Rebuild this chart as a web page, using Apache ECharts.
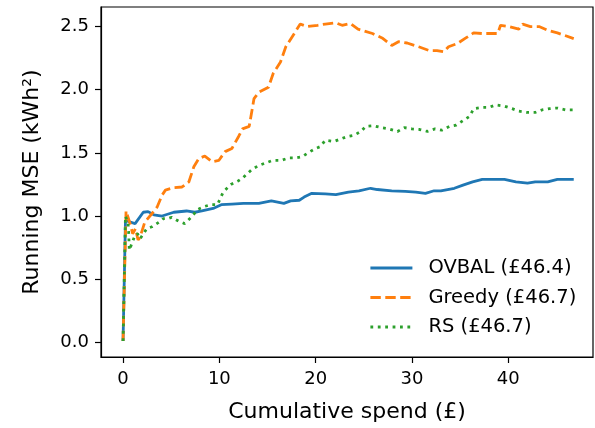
<!DOCTYPE html>
<html>
<head>
<meta charset="utf-8">
<script src="https://cdn.jsdelivr.net/npm/echarts@6/dist/echarts.min.js"></script>
<style>
html,body{margin:0;padding:0;background:#fff;}
#c{width:595px;height:428px;}
</style>
</head>
<body>
<div id="c"></div>
<script>
// ---- data ----
const xTicks = [0, 10, 20, 30, 40];
const yTicks = [0.0, 0.5, 1.0, 1.5, 2.0, 2.5];
const seriesNames = ['OVBAL (£46.4)', 'Greedy (£46.7)', 'RS (£46.7)'];

const ovbalSpend = [0, 0.25, 1.25, 2.1, 2.6, 3.2, 4.05, 5.27, 6.59, 7.45, 8.18, 9.35, 10.2, 11.3, 12.5, 13.1, 14.1, 15.4, 16.7, 17.4, 18.3, 18.8, 19.6, 21.0, 22.1, 23.4, 24.5, 25.7, 26.4, 27.9, 29.3, 30.4, 31.4, 32.3, 33.0, 34.4, 35.3, 36.3, 37.3, 38.3, 39.6, 40.8, 42.0, 42.8, 44.1, 45.1, 46.8];
const ovbalMse   = [0.01, 0.965, 0.94, 1.03, 1.035, 1.01, 1.00, 1.03, 1.04, 1.03, 1.04, 1.06, 1.09, 1.095, 1.10, 1.10, 1.10, 1.12, 1.10, 1.12, 1.125, 1.15, 1.18, 1.175, 1.17, 1.19, 1.20, 1.22, 1.21, 1.20, 1.195, 1.19, 1.18, 1.20, 1.20, 1.22, 1.245, 1.27, 1.29, 1.29, 1.29, 1.27, 1.26, 1.27, 1.27, 1.29, 1.29];

const greedySpend = [0, 0.31, 0.77, 1.0, 1.29, 1.56, 1.75, 2.25, 3.01, 3.53, 4.05, 4.4, 5.27, 6.13, 6.83, 7.35, 7.86, 8.49, 9.25, 9.94, 10.6, 11.3, 12.0, 12.4, 13.1, 13.6, 14.1, 15.1, 15.6, 16.35, 16.9, 17.9, 18.4, 19.1, 20.2, 21.0, 22.1, 22.75, 23.6, 24.4, 25.9, 26.9, 27.9, 28.6, 29.5, 30.7, 31.8, 32.6, 33.3, 33.8, 34.7, 35.6, 36.4, 37.3, 38.9, 39.2, 40.1, 41.1, 41.5, 42.3, 43.2, 44.1, 45.1, 46.8];
const greedyMse   = [0.01, 1.04, 0.93, 0.86, 0.90, 0.81, 0.83, 0.95, 1.02, 1.07, 1.165, 1.205, 1.225, 1.23, 1.27, 1.39, 1.455, 1.475, 1.43, 1.44, 1.51, 1.535, 1.63, 1.69, 1.71, 1.93, 1.98, 2.02, 2.13, 2.22, 2.34, 2.46, 2.52, 2.50, 2.51, 2.52, 2.53, 2.51, 2.525, 2.48, 2.445, 2.41, 2.35, 2.38, 2.37, 2.34, 2.31, 2.31, 2.30, 2.34, 2.365, 2.41, 2.45, 2.445, 2.445, 2.51, 2.50, 2.48, 2.52, 2.50, 2.50, 2.47, 2.45, 2.405];

const rsSpend = [0, 0.25, 0.52, 0.59, 0.62, 0.65, 1.25, 1.5, 1.77, 2.46, 3.0, 3.7, 4.2, 4.7, 5.06, 5.75, 6.4, 7.2, 7.7, 8.4, 9.1, 9.8, 10.4, 11.2, 12.0, 12.4, 13.4, 14.1, 14.8, 15.5, 16.4, 17.2, 17.9, 18.6, 19.3, 20.0, 20.5, 21.0, 21.9, 22.6, 23.3, 24.0, 24.7, 25.2, 26.0, 26.8, 27.6, 28.5, 29.2, 30.0, 30.8, 31.6, 32.4, 33.1, 33.9, 34.6, 35.4, 36.0, 36.4, 37.2, 38.0, 38.7, 39.6, 40.4, 41.1, 41.9, 42.8, 43.5, 44.3, 45.1, 46.0, 46.8];
const rsMse   = [0.01, 1.0, 0.94, 0.86, 0.79, 0.73, 0.85, 0.86, 0.82, 0.90, 0.915, 0.95, 0.98, 0.98, 0.99, 0.96, 0.94, 1.0, 1.05, 1.075, 1.09, 1.09, 1.19, 1.25, 1.28, 1.30, 1.37, 1.40, 1.42, 1.44, 1.44, 1.46, 1.46, 1.47, 1.505, 1.535, 1.55, 1.60, 1.59, 1.61, 1.63, 1.64, 1.67, 1.71, 1.715, 1.70, 1.69, 1.67, 1.70, 1.69, 1.685, 1.67, 1.69, 1.68, 1.71, 1.72, 1.76, 1.79, 1.85, 1.86, 1.86, 1.88, 1.87, 1.85, 1.83, 1.82, 1.82, 1.84, 1.85, 1.855, 1.84, 1.84];

const colors = ['#1f77b4', '#ff7f0e', '#2ca02c'];

function pairs(xs, ys) { return xs.map((x, i) => [x, ys[i]]); }

const FONT = 'DejaVu Sans';
const chart = echarts.init(document.getElementById('c'), null, {renderer: 'canvas'});

const axisCommon = {
  axisLine: {show: true, onZero: false, lineStyle: {color: '#000', width: 1.2}},
  axisTick: {show: true, inside: false, length: 6, lineStyle: {color: '#000', width: 1.2}},
  splitLine: {show: false},
  nameLocation: 'middle',
  nameTextStyle: {fontFamily: FONT, fontSize: 22, color: '#000'}
};

const LW = 2.8;

chart.setOption({
  animation: false,
  backgroundColor: '#fff',
  grid: {left: 101, right: 2, top: 7, bottom: 71, show: true, borderColor: '#000', borderWidth: 1.2, backgroundColor: 'transparent'},
  xAxis: Object.assign({}, axisCommon, {
    type: 'value', min: -2.29, max: 48.8, interval: 10,
    name: 'Cumulative spend (£)', nameGap: 44,
    axisLabel: {fontFamily: FONT, fontSize: 18, color: '#000', margin: 13,
      customValues: xTicks, formatter: v => String(v)},
    axisTick: Object.assign({}, axisCommon.axisTick, {customValues: xTicks}),
    position: 'bottom'
  }),
  yAxis: Object.assign({}, axisCommon, {
    type: 'value', min: -0.116, max: 2.655,
    name: 'Running MSE (kWh²)', nameGap: 58,
    axisLabel: {fontFamily: FONT, fontSize: 18, color: '#000', margin: 12,
      customValues: yTicks, formatter: v => v.toFixed(1)},
    axisTick: Object.assign({}, axisCommon.axisTick, {customValues: yTicks}),
    position: 'left'
  }),
  legend: {
    orient: 'vertical', left: 369, top: 258, padding: 0,
    itemWidth: 42, itemHeight: 14, itemGap: 9.5,
    itemStyle: {opacity: 0},
    lineStyle: {width: LW},
    textStyle: {fontFamily: FONT, fontSize: 19.5, lineHeight: 20, color: '#000', padding: [0, 0, 0, 11]},
    data: seriesNames
  },
  series: [
    {name: seriesNames[0], type: 'line', data: pairs(ovbalSpend, ovbalMse), symbol: 'none', z: 3,
     lineStyle: {color: colors[0], width: LW, type: 'solid'}, itemStyle: {color: colors[0]}},
    {name: seriesNames[1], type: 'line', data: pairs(greedySpend, greedyMse), symbol: 'none', z: 4,
     lineStyle: {color: colors[1], width: LW, type: [10.4, 4.5]}, itemStyle: {color: colors[1]}},
    {name: seriesNames[2], type: 'line', data: pairs(rsSpend, rsMse), symbol: 'none', z: 5,
     lineStyle: {color: colors[2], width: LW, type: [2.8, 4.6]}, itemStyle: {color: colors[2]}}
  ]
});
</script>
</body>
</html>
